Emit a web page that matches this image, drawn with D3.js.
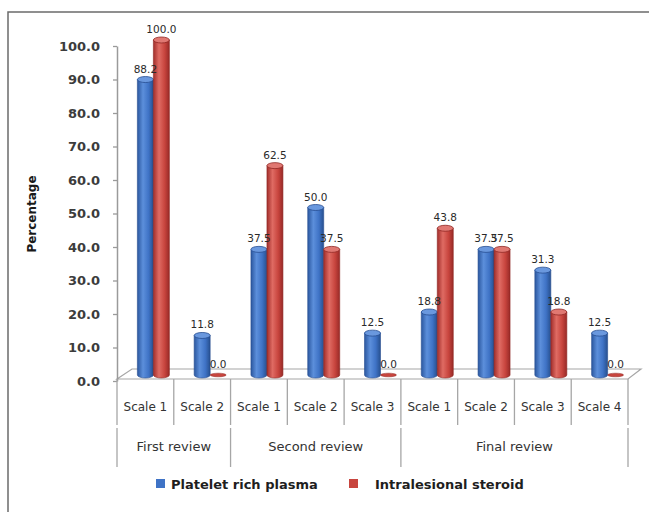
<!DOCTYPE html>
<html>
<head>
<meta charset="utf-8">
<script src="https://cdn.jsdelivr.net/npm/d3@7"></script>
<style>
  html, body { margin: 0; padding: 0; background: #fff; }
  svg { display: block; }
</style>
</head>
<body>
<svg id="chart" width="649" height="512"></svg>
<script>
// Review groups and the scale categories inside each
const groups = ["First review", "Second review", "Final review"];
const groupOf = [0, 0, 1, 1, 1, 2, 2, 2, 2];
const categories = ["Scale 1", "Scale 2", "Scale 1", "Scale 2", "Scale 3", "Scale 1", "Scale 2", "Scale 3", "Scale 4"];

// Percentages per treatment
const seriesNames = ["Platelet rich plasma", "Intralesional steroid"];
const prp = [88.2, 11.8, 37.5, 50.0, 12.5, 18.8, 37.5, 31.3, 12.5];
const steroid = [100.0, 0.0, 62.5, 37.5, 0.0, 43.8, 37.5, 18.8, 0.0];
const yTicks = [0, 10, 20, 30, 40, 50, 60, 70, 80, 90, 100];

const svg = d3.select("#chart");
const W = 649, H = 512;

// outer frame (left and top edges)
svg.append("path")
  .attr("d", `M8,${H} V12 H${W}`)
  .attr("fill", "none").attr("stroke", "#6b6b6b").attr("stroke-width", 1.5);

const x0 = 117, x1 = 628;
const y = d3.scaleLinear().domain([0, 100]).range([381, 46]);
const x = d3.scaleBand().domain(d3.range(categories.length)).range([x0, x1]).padding(0);
const depthX = 8, depthY = 6;          // offset of the bar plane into the floor
const barW = 16;
const xSub = d3.scaleBand().domain([0, 1]).range([0, barW * 2]).padding(0);

const colors = [
  { stops: ["#2b579f", "#5c8fdb", "#3f73c6", "#27508f"], top: "#6a98de", edge: "#264d91" },
  { stops: ["#a22e2b", "#df6b63", "#c8453e", "#982a27"], top: "#e07872", edge: "#8f2622" }
];
const defs = svg.append("defs");
colors.forEach((c, i) => {
  const g = defs.append("linearGradient").attr("id", "cyl" + i)
    .attr("x1", "0%").attr("x2", "100%").attr("y1", "0%").attr("y2", "0%");
  [0, 35, 70, 100].forEach((o, k) => g.append("stop").attr("offset", o + "%").attr("stop-color", c.stops[k]));
});

// 3D floor
const fy = y(0) - 2, by = fy - 10;
svg.append("path")
  .attr("d", `M${x0},${fy} L${x0 + 15},${by} H${x1 + 13} L${x1},${fy} Z`)
  .attr("fill", "#fff").attr("stroke", "#a6a6a6").attr("stroke-width", 1.2);

// Y axis
const yAxis = svg.append("g").attr("transform", `translate(${x0},0)`)
  .call(d3.axisLeft(y).tickValues(yTicks).tickFormat(d3.format(".1f"))
    .tickSize(4).tickSizeOuter(0).tickPadding(13));
yAxis.select(".domain").attr("stroke", "#9a9a9a").attr("stroke-width", 1.5);
yAxis.selectAll(".tick line").attr("stroke", "#9a9a9a").attr("stroke-width", 1.3);
yAxis.selectAll(".tick text")
  .attr("font-family", "DejaVu Sans, sans-serif").attr("font-weight", "bold")
  .attr("font-size", 13).attr("fill", "#3c3c3c");

// Y axis title
svg.append("text")
  .attr("transform", "translate(36,214) rotate(-90)")
  .attr("text-anchor", "middle")
  .attr("font-family", "DejaVu Sans, sans-serif").attr("font-weight", "bold")
  .attr("font-size", 12).attr("fill", "#1a1a1a")
  .text("Percentage");

// Category axis: scale cells and group cells
const axisG = svg.append("g").attr("stroke", "#a6a6a6").attr("stroke-width", 1.3);
d3.range(categories.length + 1).forEach(i => {
  const xx = i < categories.length ? x(i) : x1;
  axisG.append("line").attr("x1", xx).attr("x2", xx).attr("y1", fy).attr("y2", 425);
});
const groupBounds = [0];
groups.forEach((g, gi) => groupBounds.push(groupOf.lastIndexOf(gi) + 1));
groupBounds.forEach(b => {
  const xx = b < categories.length ? x(b) : x1;
  axisG.append("line").attr("x1", xx).attr("x2", xx).attr("y1", 428).attr("y2", 467);
});

svg.append("g").selectAll("text").data(categories).join("text")
  .attr("x", (d, i) => x(i) + x.bandwidth() / 2)
  .attr("y", 411)
  .attr("text-anchor", "middle")
  .attr("font-family", "DejaVu Sans, sans-serif").attr("font-size", 12).attr("fill", "#333")
  .text(d => d);

svg.append("g").selectAll("text").data(groups).join("text")
  .attr("x", (d, gi) => {
    const a = x(groupBounds[gi]);
    const b = groupBounds[gi + 1] < categories.length ? x(groupBounds[gi + 1]) : x1;
    return (a + b) / 2;
  })
  .attr("y", 451)
  .attr("text-anchor", "middle")
  .attr("font-family", "DejaVu Sans, sans-serif").attr("font-size", 13).attr("fill", "#333")
  .text(d => d);

// Cylinder bars
const series = [prp, steroid];
const ry = 3;
const baseY = y(0) - depthY;
const barsG = svg.append("g");
const labelsG = svg.append("g");
categories.forEach((c, i) => {
  series.forEach((vals, s) => {
    const v = vals[i];
    const left = x(i) + x.bandwidth() / 2 - barW + depthX + xSub(s);
    const cx = left + barW / 2;
    const topY = y(v) - depthY;
    const col = colors[s];
    if (v > 0) {
      barsG.append("path")
        .attr("d", `M${left},${topY} V${baseY} A${barW / 2},${ry} 0 0 0 ${left + barW},${baseY} V${topY} Z`)
        .attr("fill", `url(#cyl${s})`).attr("stroke", col.edge).attr("stroke-width", 0.6);
      barsG.append("ellipse")
        .attr("cx", cx).attr("cy", topY).attr("rx", barW / 2).attr("ry", ry)
        .attr("fill", col.top).attr("stroke", col.edge).attr("stroke-width", 0.8);
    } else {
      barsG.append("ellipse")
        .attr("cx", cx).attr("cy", baseY).attr("rx", barW / 2).attr("ry", 1.8)
        .attr("fill", col.stops[2]).attr("stroke", col.edge).attr("stroke-width", 0.5);
    }
    labelsG.append("text")
      .attr("x", cx).attr("y", topY - 7)
      .attr("text-anchor", "middle")
      .attr("font-family", "DejaVu Sans, sans-serif").attr("font-size", 10.5).attr("fill", "#2a2a2a")
      .text(d3.format(".1f")(v));
  });
});

// Legend
const legend = svg.append("g").attr("font-family", "DejaVu Sans, sans-serif")
  .attr("font-weight", "bold").attr("font-size", 13).attr("fill", "#1e1e1e");
const legendX = [156, 349];
const legendTextX = [171, 375];
seriesNames.forEach((n, s) => {
  legend.append("rect").attr("x", legendX[s]).attr("y", 479).attr("width", 9).attr("height", 9)
    .attr("fill", colors[s].stops[2]);
  legend.append("text").attr("x", legendTextX[s]).attr("y", 488.5).text(n);
});
</script>
</body>
</html>
